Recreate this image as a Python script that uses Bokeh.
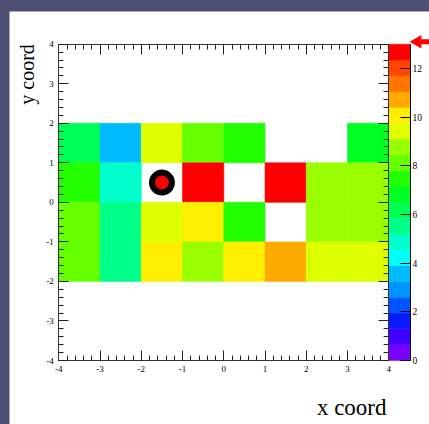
import numpy as np
from bokeh.plotting import figure
from bokeh.models import (LinearColorMapper, FixedTicker, LinearAxis, ColumnDataSource,
                          Range1d, CustomJSTickFormatter)
from bokeh.core.properties import value
from bokeh.transform import transform
from bokeh.embed import file_html
from bokeh.resources import INLINE

# ---- data ----
x_centers = [-3.5, -2.5, -1.5, -0.5, 0.5, 1.5, 2.5, 3.5]
y_centers = [1.5, 0.5, -0.5, -1.5]
row_y_p15 = [6.2, 3.6, 9.4, 8.1, 7.5, 0.0, 0.0, 6.8]
row_y_p05 = [7.5, 4.9, 0.0, 13.0, 0.0, 13.0, 8.8, 8.8]
row_y_m05 = [8.1, 5.5, 9.4, 10.1, 7.5, 0.0, 8.8, 8.8]
row_y_m15 = [8.1, 5.5, 10.1, 8.8, 10.1, 10.7, 9.4, 9.4]
marker_x = [-1.5]
marker_y = [0.5]
arrow_level = [13.1]
z_low, z_high = 0.0, 13.0
cb_ticks = [0, 2, 4, 6, 8, 10, 12]
axis_ticks = [-4, -3, -2, -1, 0, 1, 2, 3, 4]
axis_lo, axis_hi = -4.0, 4.0
x_title = "x coord"
y_title = "y coord"
palette = ["#7a00ff", "#3f00ff", "#0a1aff", "#0055ff", "#0094ff", "#00bbff", "#00ffff",
           "#00ffcc", "#00ff88", "#00ff55", "#00ff22", "#22ff00", "#66ff00", "#99ff00",
           "#ddff00", "#ffee00", "#ffaa00", "#ff7700", "#ff4400", "#ff0000"]

rows = [row_y_p15, row_y_p05, row_y_m05, row_y_m15]
xs, ys, zs = [], [], []
for yc, row in zip(y_centers, rows):
    for xc, z in zip(x_centers, row):
        if z > 0:
            xs.append(xc); ys.append(yc); zs.append(z)
src = ColumnDataSource(dict(x=xs, y=ys, z=zs))
mapper = LinearColorMapper(palette=palette, low=z_low, high=z_high)

# ---- layout (pixels) ----
W, H = 420, 413                      # canvas (white panel)
AX_W, AX_H = 330.0, 316.3            # axis frame size in pixels
PAD_L, PAD_R = 49.3, W - 49.3 - AX_W
PAD_T, PAD_B = 32.7, H - 32.7 - AX_H
CB_W = 21.7
px = (axis_hi - axis_lo) / AX_W
py = (axis_hi - axis_lo) / AX_H
pz = (z_high - z_low) / AX_H

x_range = Range1d(axis_lo - PAD_L * px, axis_hi + PAD_R * px)
y_range = Range1d(axis_lo - PAD_B * py, axis_hi + PAD_T * py)

p = figure(width=W, height=H, x_range=x_range, y_range=y_range,
           output_backend="svg", toolbar_location=None, min_border=0,
           x_axis_location=None, y_axis_location=None)
p.extra_y_ranges = {"cb": Range1d(z_low - PAD_B * pz, z_high + PAD_T * pz)}
p.grid.visible = False
p.background_fill_color = "white"
p.border_fill_color = "white"
p.outline_line_color = None

# heat-map cells
p.rect(x="x", y="y", width=1, height=1, source=src,
       fill_color=transform("z", mapper), line_color=transform("z", mapper), line_width=0.6)
p.scatter(marker_x, marker_y, size=20, fill_color="red", line_color="black", line_width=6)

# palette bar
levels = np.linspace(z_low, z_high, len(palette) + 1)
cb_left = axis_hi
cb_right = axis_hi + CB_W * px
p.quad(left=cb_left, right=cb_right, bottom=levels[:-1], top=levels[1:],
       fill_color=palette, line_color=palette, line_width=0.5, y_range_name="cb")

# red pointer at the palette top
p.scatter([cb_right + 6.9 * px], arrow_level, marker="triangle", angle=np.pi / 2, size=12,
          fill_color="red", line_color="red", y_range_name="cb")
p.rect([cb_right + 15.5 * px], arrow_level, width=10, height=5, width_units="screen",
       height_units="screen", fill_color="red", line_color=None, y_range_name="cb")

minor = [float(v) for v in np.round(np.arange(axis_lo, axis_hi + 0.001, 0.2), 2)]
num_fmt = CustomJSTickFormatter(code="return tick.toString();")
blank_fmt = CustomJSTickFormatter(code="return '';")

def make_axis(side, loc, labels=True, range_name=None, ticks=axis_ticks, minors=minor,
              bounds=(axis_lo, axis_hi), font_size="9px", standoff=5):
    kw = {}
    if range_name:
        kw["y_range_name"] = range_name
    ax = LinearAxis(fixed_location=loc, bounds=bounds, **kw)
    ax.ticker = FixedTicker(ticks=ticks, minor_ticks=minors)
    ax.major_tick_in = 10
    ax.major_tick_out = 0
    ax.minor_tick_in = 5
    ax.minor_tick_out = 0
    ax.axis_line_color = "#333333"
    ax.major_tick_line_color = "#222222"
    ax.minor_tick_line_color = "#222222"
    if labels:
        ax.formatter = num_fmt
        ax.major_label_text_font = "Liberation Serif"
        ax.major_label_text_font_size = font_size
        ax.major_label_text_color = "black"
        ax.major_label_standoff = standoff
    else:
        ax.formatter = blank_fmt
        ax.major_label_standoff = 0
    p.add_layout(ax, side)
    return ax

make_axis("below", axis_lo)
make_axis("left", axis_lo)
make_axis("above", axis_hi, labels=False)
make_axis("right", axis_hi, labels=False)
cb_ax = make_axis("right", cb_right, range_name="cb", ticks=cb_ticks, minors=[],
                  bounds=(z_low, z_high), font_size="9.5px", standoff=2)
cb_ax.axis_line_color = "black"
cb_ax.major_tick_line_color = "black"

# axis titles
p.text(x=[axis_hi], y=[axis_lo], text=[x_title], x_offset=-2.3, y_offset=47,
       text_align="right", text_baseline="alphabetic", text_color="black",
       text_font=value("Liberation Serif"), text_font_size="23px")
p.text(x=[axis_lo], y=[axis_hi], text=[y_title], angle=np.pi / 2, x_offset=-32.3, y_offset=0,
       text_align="right", text_baseline="alphabetic", text_color="black",
       text_font=value("Liberation Serif"), text_font_size="20px")

html = file_html(p, INLINE)
page_css = ("<style>html, body { margin:0 !important; padding:0 !important; "
            "background-color:#4f4f76 !important; overflow:hidden !important; } "
            "body { padding:11px 0 0 9px !important; }</style>")
html = html.replace("</head>", page_css + "</head>", 1)
open("out.html", "w").write(html)
